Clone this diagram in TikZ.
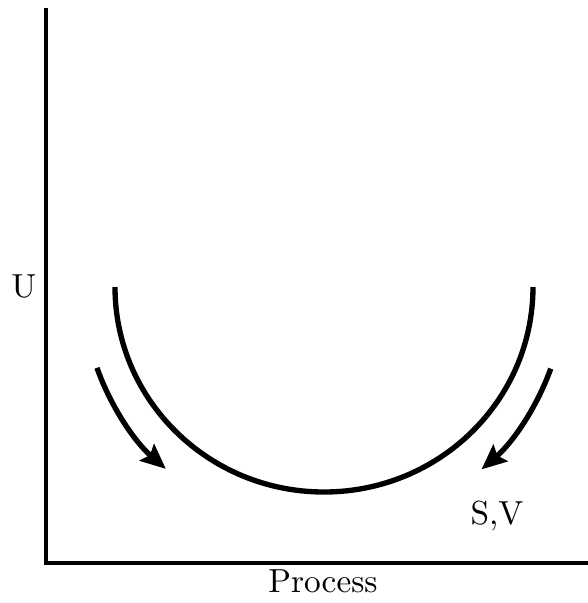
\documentclass[tikz,border=0pt]{standalone}
\usetikzlibrary{arrows.meta}

\begin{document}
\begin{tikzpicture}[x=0.3pt,y=-0.3pt,
  axis/.style={line width=1.3pt},
  curve/.style={line width=1.6pt},
  flow/.style={line width=1.6pt,-{Stealth[length=7.5pt,width=6.5pt,inset=1.2pt]}},
  lbl/.style={font=\normalsize,inner sep=0pt}]
  \useasboundingbox (0,0) rectangle (588,603);
  % axes
  \coordinate (top) at (46,8);
  \coordinate (origin) at (46,563);
  \coordinate (right) at (588,563);
  \draw[axis] (top) -- (origin) -- (right);
  % the well
  \coordinate (c) at (324,287);
  \draw[curve] (c) ++(180:209 and 205) arc[start angle=180,end angle=0,
    x radius=209,y radius=205];
  % the two arrows going down into it
  \draw[flow] (c) ++(160.4:241) arc[start angle=160.4,end angle=131,radius=241];
  \draw[flow] (c) ++(19.8:241) arc[start angle=19.8,end angle=49.2,radius=241];
  \node[lbl] (u) at (24,286) {U};
  \node[lbl] (sv) at (497,516) {S,V};
  \node[lbl] (proc) at (323,581) {Process};
\end{tikzpicture}
\end{document}
